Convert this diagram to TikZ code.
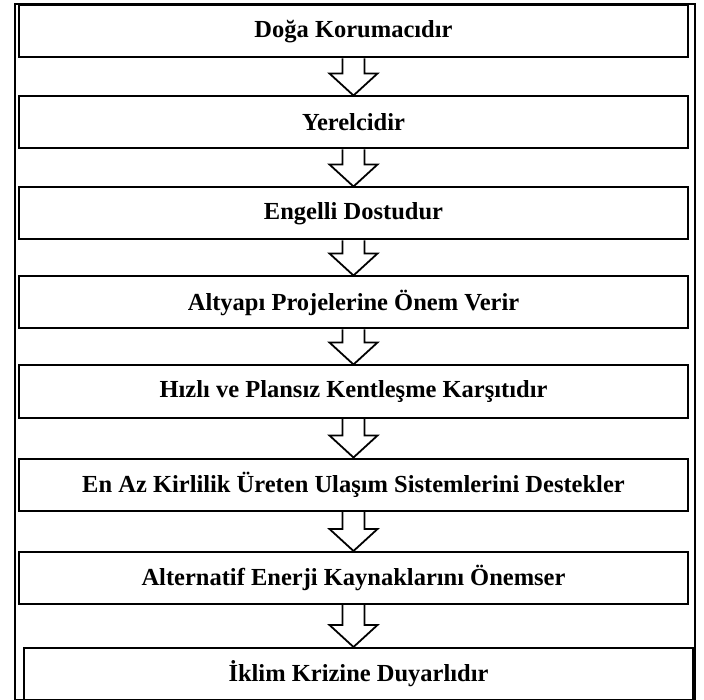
\documentclass[tikz,border=0pt]{standalone}
\usepackage{fontspec}
\setmainfont{Liberation Serif}
\usepackage{tikz}
\usetikzlibrary{calc}

\begin{document}
\begin{tikzpicture}[x=1pt,y=-1pt,
    stepbox/.style={draw,line width=2pt,minimum width=669pt,minimum height=52pt,inner sep=0pt,
      font=\fontsize{24.5}{28}\selectfont\bfseries},
    hollow/.style={draw,line width=1.8pt,line join=miter},
    frame/.style={draw,line width=1.4pt}]
      \useasboundingbox (0,0) rectangle (704,700);
      \draw[frame] (15,4) rectangle (695,700);
      % boxes
      \node[stepbox] (b1) at (353.5,31.5) {Doğa Korumacıdır};
      \node[stepbox] (b2) at (353.5,122.5) {Yerelcidir};
      \node[stepbox] (b3) at (353.5,213.5) {Engelli Dostudur};
      \node[stepbox] (b4) at (353.5,302.5) {Altyapı Projelerine Önem Verir};
      \node[stepbox] (b5) at (353.5,391.5) {Hızlı ve Plansız Kentleşme Karşıtıdır};
      \node[stepbox] (b6) at (353.5,484.5) {En Az Kirlilik Üreten Ulaşım Sistemlerini Destekler};
      \node[stepbox] (b7) at (353.5,578) {Alternatif Enerji Kaynaklarını Önemser};
      \node[stepbox] (b8) at (358.5,674) {İklim Krizine Duyarlıdır};
      % arrows
      \draw[hollow] ($(b1.south)+(-11,0)$) -- ($(b1.south |- b2.north)+(-11,-22)$) -- ++(-13,0) -- (b1.south |- b2.north) -- ++(24,-22) -- ++(-13,0) -- ($(b1.south)+(11,0)$);
      \draw[hollow] ($(b2.south)+(-11,0)$) -- ($(b2.south |- b3.north)+(-11,-22)$) -- ++(-13,0) -- (b2.south |- b3.north) -- ++(24,-22) -- ++(-13,0) -- ($(b2.south)+(11,0)$);
      \draw[hollow] ($(b3.south)+(-11,0)$) -- ($(b3.south |- b4.north)+(-11,-22)$) -- ++(-13,0) -- (b3.south |- b4.north) -- ++(24,-22) -- ++(-13,0) -- ($(b3.south)+(11,0)$);
      \draw[hollow] ($(b4.south)+(-11,0)$) -- ($(b4.south |- b5.north)+(-11,-22)$) -- ++(-13,0) -- (b4.south |- b5.north) -- ++(24,-22) -- ++(-13,0) -- ($(b4.south)+(11,0)$);
      \draw[hollow] ($(b5.south)+(-11,0)$) -- ($(b5.south |- b6.north)+(-11,-22)$) -- ++(-13,0) -- (b5.south |- b6.north) -- ++(24,-22) -- ++(-13,0) -- ($(b5.south)+(11,0)$);
      \draw[hollow] ($(b6.south)+(-11,0)$) -- ($(b6.south |- b7.north)+(-11,-22)$) -- ++(-13,0) -- (b6.south |- b7.north) -- ++(24,-22) -- ++(-13,0) -- ($(b6.south)+(11,0)$);
      \draw[hollow] ($(b7.south)+(-11,0)$) -- ($(b7.south |- b8.north)+(-11,-22)$) -- ++(-13,0) -- (b7.south |- b8.north) -- ++(24,-22) -- ++(-13,0) -- ($(b7.south)+(11,0)$);
    \end{tikzpicture}
\end{document}
